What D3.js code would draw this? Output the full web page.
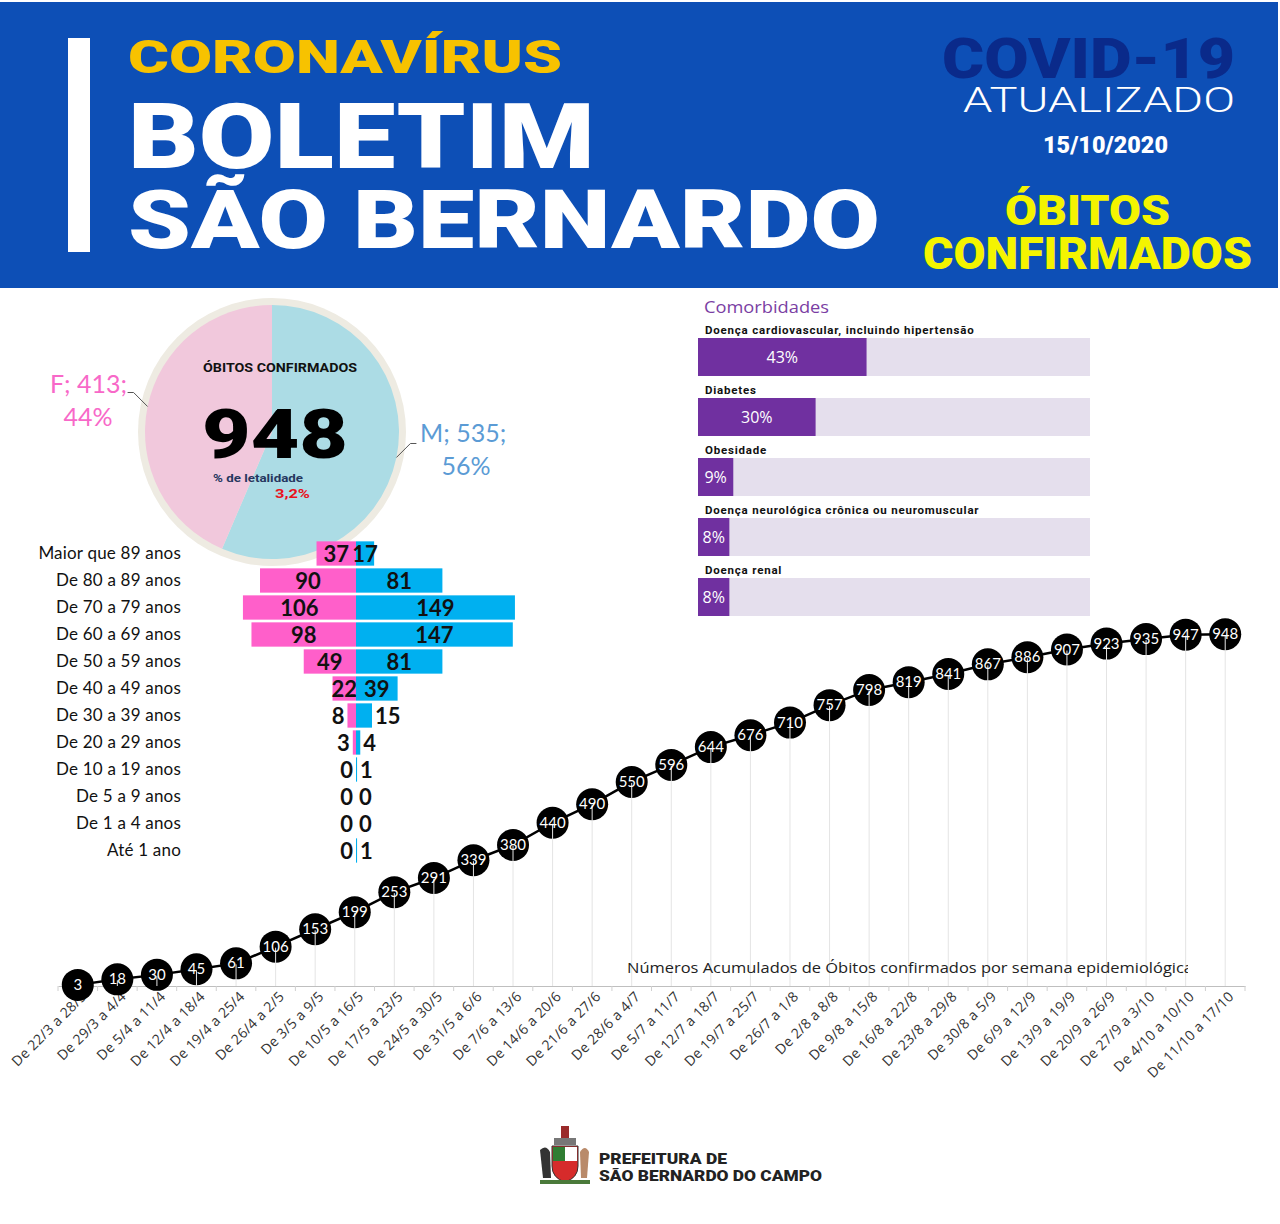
<!DOCTYPE html>
<html>
<head>
<meta charset="utf-8">
<script src="https://cdn.jsdelivr.net/npm/d3@7"></script>
<style>
body{margin:0;background:#fff;}
svg{display:block;}
</style>
</head>
<body>
<script>
// dados do boletim
var sexoNomes = ["M", "F"];
var sexoObitos = [535, 413];
var sexoPct = ["56%", "44%"];
var totalObitos = 948;
var letalidade = "3,2%";

var faixas = ["Maior que 89 anos", "De 80 a 89 anos", "De 70 a 79 anos", "De 60 a 69 anos",
  "De 50 a 59 anos", "De 40 a 49 anos", "De 30 a 39 anos", "De 20 a 29 anos",
  "De 10 a 19 anos", "De 5 a 9 anos", "De 1 a 4 anos", "Até 1 ano"];
var feminino = [37, 90, 106, 98, 49, 22, 8, 3, 0, 0, 0, 0];
var masculino = [17, 81, 149, 147, 81, 39, 15, 4, 1, 0, 0, 1];

var comorbidades = ["Doença cardiovascular, incluindo hipertensão", "Diabetes", "Obesidade",
  "Doença neurológica crônica ou neuromuscular", "Doença renal"];
var comorbPct = [43, 30, 9, 8, 8];

var semanas = ["De 22/3 a 28/3", "De 29/3 a 4/4", "De 5/4 a 11/4", "De 12/4 a 18/4", "De 19/4 a 25/4",
  "De 26/4 a 2/5", "De 3/5 a 9/5", "De 10/5 a 16/5", "De 17/5 a 23/5", "De 24/5 a 30/5",
  "De 31/5 a 6/6", "De 7/6 a 13/6", "De 14/6 a 20/6", "De 21/6 a 27/6", "De 28/6 a 4/7",
  "De 5/7 a 11/7", "De 12/7 a 18/7", "De 19/7 a 25/7", "De 26/7 a 1/8", "De 2/8 a 8/8",
  "De 9/8 a 15/8", "De 16/8 a 22/8", "De 23/8 a 29/8", "De 30/8 a 5/9", "De 6/9 a 12/9",
  "De 13/9 a 19/9", "De 20/9 a 26/9", "De 27/9 a 3/10", "De 4/10 a 10/10", "De 11/10 a 17/10"];
var acumulados = [3, 18, 30, 45, 61, 106, 153, 199, 253, 291, 339, 380, 440, 490, 550,
  596, 644, 676, 710, 757, 798, 819, 841, 867, 886, 907, 923, 935, 947, 948];


var svg = d3.select("body").append("svg")
    .attr("width", 1280)
    .attr("height", 1224)
    .style("font-family", "Lato, 'Open Sans', sans-serif");

var heavy = "Roboto, 'DejaVu Sans', sans-serif";

//header
svg.append("rect").attr("x", 0).attr("y", 2).attr("width", 1278).attr("height", 286).attr("fill", "#0d4fb6");
svg.append("rect").attr("x", 68).attr("y", 38).attr("width", 22).attr("height", 214).attr("fill", "#fff");

function titulo(txt, x, y, size, len, fill, weight, anchor) {
  svg.append("text")
    .attr("x", x).attr("y", y)
    .attr("text-anchor", anchor || "start")
    .attr("textLength", len).attr("lengthAdjust", "spacingAndGlyphs")
    .style("font-family", heavy).style("font-weight", weight || 900)
    .style("font-size", size + "px").attr("fill", fill)
    .text(txt);
}
titulo("CORONAVÍRUS", 128, 73, 46, 434, "#f7c200");
titulo("BOLETIM", 128, 168, 90, 467, "#fff");
titulo("SÃO BERNARDO", 128, 248, 81, 752, "#fff");
titulo("COVID-19", 942, 78, 56, 293, "#0a2a8a");
titulo("ATUALIZADO", 963, 112, 35, 272, "#fff", 300);
titulo("15/10/2020", 1043, 153, 23, 125, "#fff", 900);
titulo("ÓBITOS", 1005, 225, 43, 165, "#f4f400");
titulo("CONFIRMADOS", 923, 269, 44, 329, "#f4f400");

//pie
var pieG = svg.append("g").attr("transform", "translate(272,432)");
pieG.append("circle").attr("r", 134).attr("fill", "#eeebe2");
var pie = d3.pie().sort(null)(sexoObitos);
var arc = d3.arc().innerRadius(0).outerRadius(127);
var pieCores = ["#acdce5", "#f1c8dc"];
pieG.selectAll("path.fatia").data(pie).enter().append("path")
    .attr("class", "fatia")
    .attr("d", arc)
    .attr("fill", function(d, i) { return pieCores[i]; });

// leader lines from slice middle
pie.forEach(function(d, i) {
  var a = (d.startAngle + d.endAngle) / 2;
  var px = 127 * Math.sin(a), py = -127 * Math.cos(a);
  var dir = px > 0 ? 1 : -1;
  var pts = [[px, py], [px + dir * 14, py - 14], [px + dir * 20, py - 14]];
  pieG.append("path").attr("d", d3.line()(pts))
      .attr("fill", "none").attr("stroke", "#555").attr("stroke-width", 1);
});

svg.append("text").attr("x", 50).attr("y", 393).attr("fill", "#f868c8")
    .style("font-size", "25px").text(sexoNomes[1] + "; " + sexoObitos[1] + ";");
svg.append("text").attr("x", 88).attr("y", 426).attr("text-anchor", "middle").attr("fill", "#f868c8")
    .style("font-size", "25px").text(sexoPct[1]);
svg.append("text").attr("x", 420).attr("y", 442).attr("fill", "#5b9bd5")
    .style("font-size", "25px").text(sexoNomes[0] + "; " + sexoObitos[0] + ";");
svg.append("text").attr("x", 466).attr("y", 475).attr("text-anchor", "middle").attr("fill", "#5b9bd5")
    .style("font-size", "25px").text(sexoPct[0]);

svg.append("text").attr("x", 203).attr("y", 372)
    .attr("textLength", 154).attr("lengthAdjust", "spacingAndGlyphs")
    .style("font-family", heavy).style("font-weight", 700).style("font-size", "12px")
    .attr("fill", "#111").text("ÓBITOS CONFIRMADOS");
svg.append("text").attr("x", 202).attr("y", 458)
    .attr("textLength", 146).attr("lengthAdjust", "spacingAndGlyphs")
    .style("font-family", heavy).style("font-weight", 900).style("font-size", "68px")
    .attr("fill", "#000").text(totalObitos);
svg.append("text").attr("x", 213).attr("y", 482)
    .attr("textLength", 90).attr("lengthAdjust", "spacingAndGlyphs")
    .style("font-family", heavy).style("font-weight", 700).style("font-size", "11px")
    .attr("fill", "#26375f").text("% de letalidade");
svg.append("text").attr("x", 275).attr("y", 498)
    .attr("textLength", 35).attr("lengthAdjust", "spacingAndGlyphs")
    .style("font-family", heavy).style("font-weight", 700).style("font-size", "13px")
    .attr("fill", "#e8121c").text(letalidade);

//comorbidades
svg.append("text").attr("x", 704).attr("y", 313).attr("fill", "#7a3ea3")
    .style("font-family", "'Open Sans', sans-serif").style("font-size", "16px")
    .attr("textLength", 125).attr("lengthAdjust", "spacingAndGlyphs")
    .text("Comorbidades");

var xc = d3.scaleLinear().domain([0, 100]).range([698, 1090]);
var yc = d3.scaleBand().domain(comorbidades).range([338, 616]).paddingInner(0.367).paddingOuter(0);

var comG = svg.selectAll("g.comorb").data(comorbidades).enter().append("g").attr("class", "comorb");
comG.append("rect")
    .attr("x", xc(0)).attr("y", function(d) { return yc(d); })
    .attr("width", xc(100) - xc(0)).attr("height", yc.bandwidth())
    .attr("fill", "#e5dfed");
comG.append("rect")
    .attr("x", xc(0)).attr("y", function(d) { return yc(d); })
    .attr("width", function(d, i) { return xc(comorbPct[i]) - xc(0); }).attr("height", yc.bandwidth())
    .attr("fill", "#7030a0");
comG.append("text")
    .attr("x", 705).attr("y", function(d) { return yc(d) - 4; })
    .style("font-family", heavy).style("font-weight", 700).style("font-size", "11.5px")
    .style("letter-spacing", "0.8px")
    .attr("fill", "#111").text(function(d) { return d; });
comG.append("text")
    .attr("x", function(d, i) { return (xc(0) + xc(comorbPct[i])) / 2; })
    .attr("y", function(d) { return yc(d) + yc.bandwidth() / 2 + 6; })
    .attr("text-anchor", "middle")
    .style("font-family", "'Open Sans', sans-serif").style("font-size", "16px")
    .attr("fill", "#fff").text(function(d, i) { return comorbPct[i] + "%"; });

//piramide etaria
var eixo = 356;
var xf = d3.scaleLinear().domain([0, 150]).range([eixo, eixo - 160]);
var xm = d3.scaleLinear().domain([0, 150]).range([eixo, eixo + 160]);
var ya = d3.scaleBand().domain(faixas).range([540, 864]).paddingInner(0.1).paddingOuter(0.05);

var linhas = svg.selectAll("g.faixa").data(faixas).enter().append("g").attr("class", "faixa");
linhas.append("text")
    .attr("x", 181).attr("y", function(d) { return ya(d) + ya.bandwidth() / 2 + 5; })
    .attr("text-anchor", "end").attr("fill", "#111")
    .style("font-size", "17px").style("letter-spacing", "0.2px").text(function(d) { return d; });
linhas.append("rect")
    .attr("x", function(d, i) { return xf(feminino[i]); })
    .attr("y", function(d) { return ya(d); })
    .attr("width", function(d, i) { return eixo - xf(feminino[i]); })
    .attr("height", ya.bandwidth()).attr("fill", "#ff5fca");
linhas.append("rect")
    .attr("x", eixo)
    .attr("y", function(d) { return ya(d); })
    .attr("width", function(d, i) { return xm(masculino[i]) - eixo; })
    .attr("height", ya.bandwidth()).attr("fill", "#00b0f0");

linhas.append("text")
    .attr("x", function(d, i) {
      var w = eixo - xf(feminino[i]);
      return w >= 17 ? eixo - w / 2 : xf(feminino[i]) - 3;
    })
    .attr("text-anchor", function(d, i) { return eixo - xf(feminino[i]) >= 17 ? "middle" : "end"; })
    .attr("y", function(d) { return ya(d) + ya.bandwidth() / 2 + 8; })
    .style("font-size", "22px").style("font-weight", 700).attr("fill", "#111")
    .text(function(d, i) { return feminino[i]; });
linhas.append("text")
    .attr("x", function(d, i) {
      var w = xm(masculino[i]) - eixo;
      return w >= 17 ? eixo + w / 2 : xm(masculino[i]) + 3;
    })
    .attr("text-anchor", function(d, i) { return xm(masculino[i]) - eixo >= 17 ? "middle" : "start"; })
    .attr("y", function(d) { return ya(d) + ya.bandwidth() / 2 + 8; })
    .style("font-size", "22px").style("font-weight", 700).attr("fill", "#111")
    .text(function(d, i) { return masculino[i]; });

//linha acumulada
var xs = d3.scaleBand().domain(semanas).range([58, 1245]);
var ys = d3.scaleLinear().domain([0, 1000]).range([986, 615]);

var eixoX = svg.append("g").attr("transform", "translate(0," + ys(0) + ")")
    .call(d3.axisBottom(xs).tickSize(0).tickSizeOuter(0).tickPadding(0));
eixoX.select(".domain").attr("stroke", "#bfbfbf");
eixoX.selectAll(".tick text")
    .attr("text-anchor", "end")
    .attr("transform", "translate(6,8) rotate(-45)")
    .attr("dy", "0.35em")
    .style("font-family", "'Open Sans', sans-serif").style("font-size", "14px")
    .style("letter-spacing", "0.25px")
    .attr("fill", "#333");

// tick marks on the band edges
svg.selectAll("line.marca").data(semanas.concat(["fim"])).enter().append("line")
    .attr("class", "marca")
    .attr("x1", function(d, i) { return 58 + i * xs.step(); })
    .attr("x2", function(d, i) { return 58 + i * xs.step(); })
    .attr("y1", ys(0)).attr("y2", ys(0) + 5)
    .attr("stroke", "#d0d0d0");

var cx = function(d, i) { return xs(semanas[i]) + xs.bandwidth() / 2; };

svg.append("path")
    .datum(acumulados)
    .attr("d", d3.line().x(cx).y(function(d) { return ys(d); }))
    .attr("fill", "none").attr("stroke", "#000").attr("stroke-width", 2.5);

svg.selectAll("circle.ponto").data(acumulados).enter().append("circle")
    .attr("class", "ponto")
    .attr("cx", cx).attr("cy", function(d) { return ys(d); })
    .attr("r", 16).attr("fill", "#000");

// drop lines
svg.selectAll("line.queda").data(acumulados).enter().append("line")
    .attr("class", "queda")
    .attr("x1", cx).attr("x2", cx)
    .attr("y1", function(d) { return ys(d) + 1; }).attr("y2", ys(0))
    .attr("stroke", "#e4e4e4").attr("stroke-width", 1);

svg.selectAll("text.valor").data(acumulados).enter().append("text")
    .attr("class", "valor")
    .attr("x", cx).attr("y", function(d) { return ys(d) + 5; })
    .attr("text-anchor", "middle").attr("fill", "#fff")
    .style("font-size", "15px").text(function(d) { return d; });

svg.append("clipPath").attr("id", "corte").append("rect")
    .attr("x", 600).attr("y", 950).attr("width", 588).attr("height", 40);
svg.append("text").attr("x", 627).attr("y", 973).attr("clip-path", "url(#corte)")
    .style("font-family", "'Open Sans', sans-serif").style("font-size", "15px")
    .attr("textLength", 566).attr("lengthAdjust", "spacingAndGlyphs")
    .attr("fill", "#222").text("Números Acumulados de Óbitos confirmados por semana epidemiológica");

//rodape
var brasao = svg.append("g").attr("transform", "translate(540,1126)");
brasao.append("rect").attr("x", 21).attr("y", 0).attr("width", 8).attr("height", 14).attr("fill", "#9a2a2a");
brasao.append("rect").attr("x", 14).attr("y", 12).attr("width", 22).attr("height", 7).attr("fill", "#777");
brasao.append("path").attr("d", "M12,20 H38 V40 Q38,52 25,56 Q12,52 12,40 Z").attr("fill", "#d62b2b").attr("stroke", "#333");
brasao.append("rect").attr("x", 13).attr("y", 21).attr("width", 12).attr("height", 14).attr("fill", "#2f7d32");
brasao.append("rect").attr("x", 25).attr("y", 21).attr("width", 12).attr("height", 14).attr("fill", "#fff");
brasao.append("path").attr("d", "M0,24 Q6,18 10,26 L11,52 L3,52 Z").attr("fill", "#333");
brasao.append("path").attr("d", "M40,26 Q45,18 49,26 L47,52 L41,52 Z").attr("fill", "#b98a6a");
brasao.append("rect").attr("x", 0).attr("y", 54).attr("width", 50).attr("height", 4).attr("fill", "#4a7a3a");

svg.append("text").attr("x", 599).attr("y", 1164)
    .attr("textLength", 128).attr("lengthAdjust", "spacingAndGlyphs")
    .style("font-family", heavy).style("font-weight", 900).style("font-size", "15px")
    .attr("fill", "#222").text("PREFEITURA DE");
svg.append("text").attr("x", 599).attr("y", 1181)
    .attr("textLength", 223).attr("lengthAdjust", "spacingAndGlyphs")
    .style("font-family", heavy).style("font-weight", 900).style("font-size", "15px")
    .attr("fill", "#222").text("SÃO BERNARDO DO CAMPO");
</script>
</body>
</html>
